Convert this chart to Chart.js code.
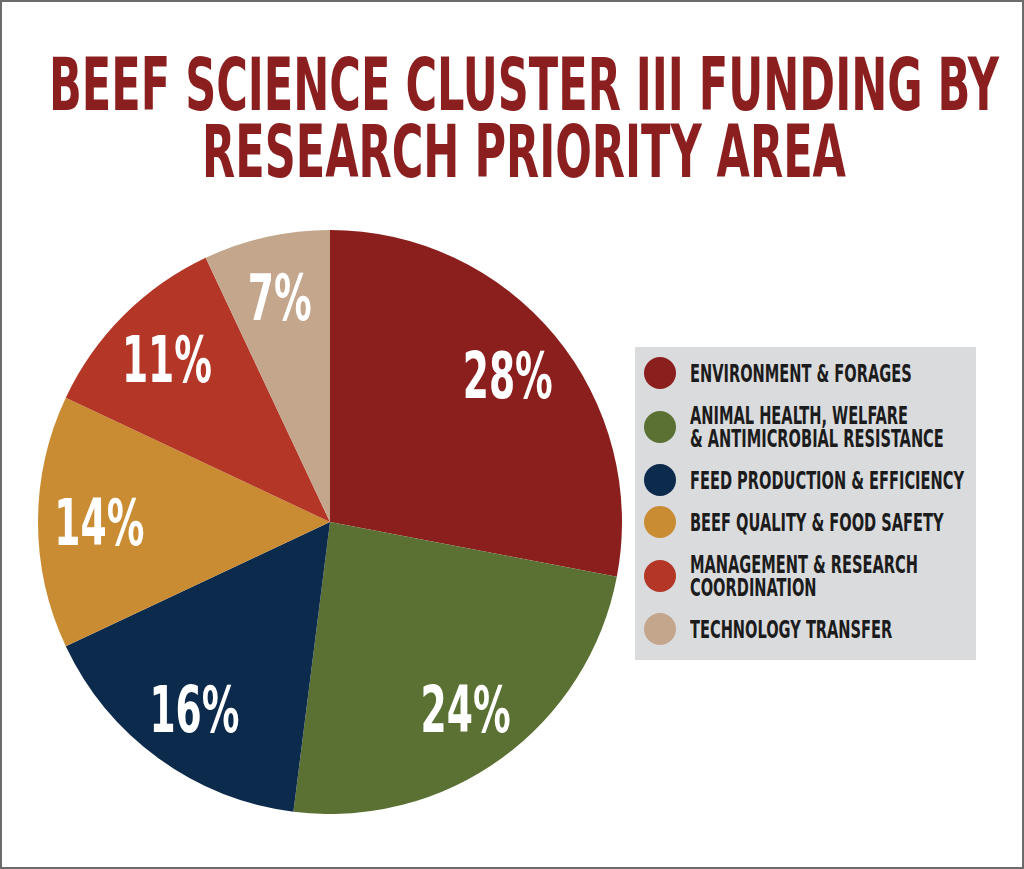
<!DOCTYPE html>
<html>
<head>
<meta charset="utf-8">
<script src="https://cdn.jsdelivr.net/npm/chart.js@4"></script>
<style>
  html, body { margin: 0; padding: 0; background: #fff; }
  #frame {
    position: relative; width: 1024px; height: 869px; box-sizing: border-box;
    border: 2px solid #6b6b6b; overflow: hidden; background: #fff;
  }
  .title-line {
    position: absolute; left: 522px; white-space: nowrap;
    font-family: "DejaVu Sans Condensed", "Liberation Sans Narrow", sans-serif;
    font-weight: bold; font-size: 73px; line-height: 73px; color: #8b1f1f;
    transform-origin: center top;
  }
  #pie-wrap { position: absolute; left: 36px; top: 228px; width: 584px; height: 584px; }
  #pie-legend {
    position: absolute; left: 633px; top: 345px; width: 341px; height: 313px;
    background: #dadbdd; box-sizing: border-box; padding-top: 5px;
  }
  #pie-legend ul { list-style: none; margin: 0; padding: 0; }
  #pie-legend li { position: relative; padding: 9.5px 0 9.5px 55px; }
  #pie-legend li span.dot {
    position: absolute; left: 9px; top: 50%; width: 32px; height: 32px;
    margin-top: -16px; border-radius: 50%;
  }
  #pie-legend .txt {
    display: block; white-space: nowrap; transform-origin: left center;
    font-family: "DejaVu Sans Condensed", "Liberation Sans Narrow", sans-serif;
    font-weight: bold; font-size: 25px; line-height: 23px; color: #1c1c1c;
  }
</style>
</head>
<body>
<div id="frame">
  <div class="title-line" id="title1" style="top:46px">BEEF SCIENCE CLUSTER III FUNDING BY</div>
  <div class="title-line" id="title2" style="top:113px">RESEARCH PRIORITY AREA</div>
  <div id="pie-wrap"><canvas id="funding-chart"></canvas></div>
  <div id="pie-legend"></div>
</div>
<script>
  // funding share per research priority area, clockwise from 12 o'clock
  const categories = [
    ['ENVIRONMENT & FORAGES'],
    ['ANIMAL HEALTH, WELFARE', '& ANTIMICROBIAL RESISTANCE'],
    ['FEED PRODUCTION & EFFICIENCY'],
    ['BEEF QUALITY & FOOD SAFETY'],
    ['MANAGEMENT & RESEARCH', 'COORDINATION'],
    ['TECHNOLOGY TRANSFER']
  ];
  const shares = [28, 24, 16, 14, 11, 7];
  const sliceColors = ['#8b1f1e', '#5a7133', '#0c2a4b', '#c98c33', '#b33627', '#c3a68c'];

  (function () {
    'use strict';

    // squeeze the title into the condensed look of the original
    const t1 = document.getElementById('title1');
    const t2 = document.getElementById('title2');
    const titleScale = 950 / t1.getBoundingClientRect().width;
    [t1, t2].forEach(function (el) {
      el.style.transform = 'translateX(-50%) scaleX(' + titleScale + ')';
    });

    const labelFont = 'bold 64px "DejaVu Sans Condensed", "Liberation Sans Narrow", sans-serif';

    const ctx = document.getElementById('funding-chart');
    new Chart(ctx, {
      type: 'pie',
      data: {
        labels: categories,
        datasets: [{
          data: shares,
          backgroundColor: sliceColors,
          hoverBackgroundColor: sliceColors,
          borderWidth: 0
        }]
      },
      options: {
        responsive: true,
        maintainAspectRatio: false,
        animation: false,
        layout: { padding: 0 },
        plugins: {
          legend: { display: false },
          tooltip: { enabled: false }
        }
      },
      plugins: [{
        afterDatasetsDraw: function (chart) {
          const c = chart.ctx;
          const meta = chart.getDatasetMeta(0);
          c.save();
          c.font = labelFont;
          c.fillStyle = '#ffffff';
          c.textAlign = 'center';
          c.textBaseline = 'alphabetic';
          const sx = 90 / c.measureText('28%').width;
          meta.data.forEach(function (arc, i) {
            const p = arc.getProps(['x', 'y', 'startAngle', 'endAngle', 'outerRadius'], true);
            const mid = (p.startAngle + p.endAngle) / 2;
            const r = p.outerRadius * 0.79;
            const x = p.x + Math.cos(mid) * r;
            const y = p.y + Math.sin(mid) * r;
            c.save();
            c.translate(x, y + 23);
            c.scale(sx, 1);
            c.fillText(chart.data.datasets[0].data[i] + '%', 0, 0);
            c.restore();
          });
          c.restore();
        },
        afterUpdate: function (chart) {
          const legendEl = document.getElementById('pie-legend');
          const ul = document.createElement('ul');
          const ds = chart.data.datasets[0];
          chart.data.labels.forEach(function (lines, i) {
            const li = document.createElement('li');
            li.innerHTML = '<span class="dot" style="background-color:' + ds.backgroundColor[i] + '"></span>' +
              lines.map(function (l) { return '<span class="txt">' + l.replace(/&/g, '&amp;') + '</span>'; }).join('');
            ul.appendChild(li);
          });
          legendEl.innerHTML = '';
          legendEl.appendChild(ul);
          // fit the longest line to its width in the reference
          let widest = 0;
          legendEl.querySelectorAll('.txt').forEach(function (s) {
            const range = document.createRange();
            range.selectNodeContents(s);
            widest = Math.max(widest, range.getBoundingClientRect().width);
          });
          const sx = 274 / widest;
          legendEl.querySelectorAll('.txt').forEach(function (s) {
            s.style.transform = 'scaleX(' + sx + ')';
          });
        }
      }]
    });
  })();
</script>
</body>
</html>
